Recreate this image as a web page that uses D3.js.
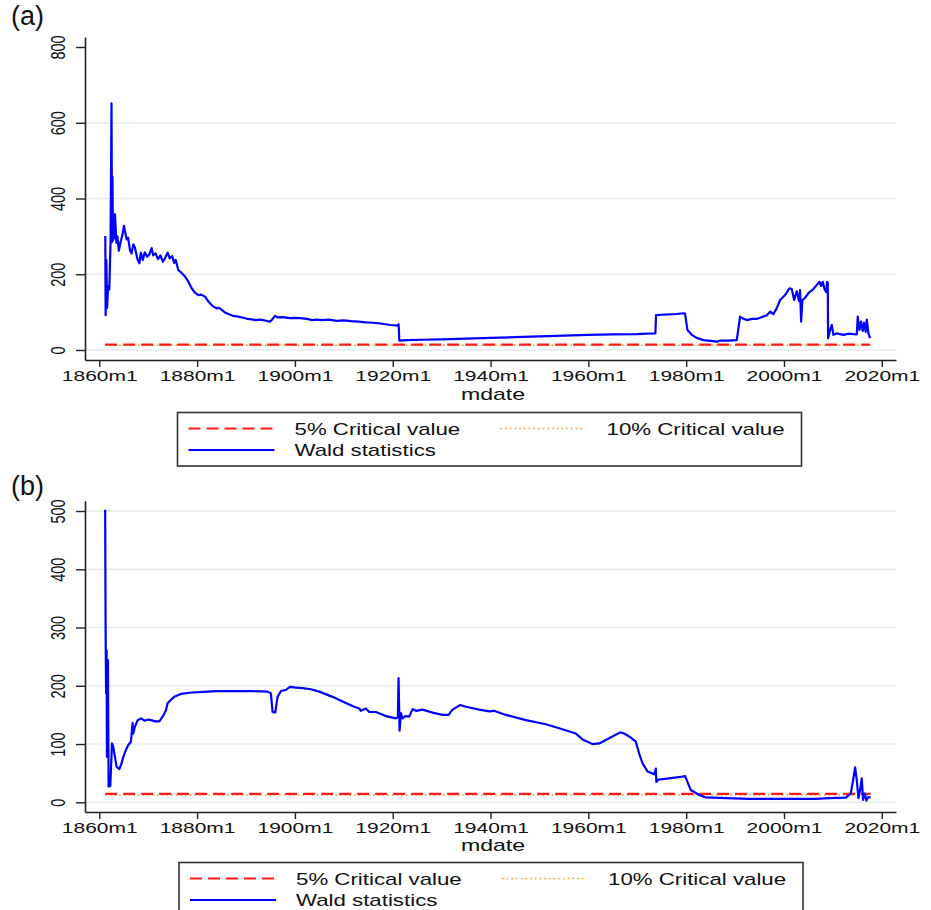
<!DOCTYPE html>
<html>
<head>
<meta charset="utf-8">
<script src="https://cdn.jsdelivr.net/npm/d3@7"></script>
<style>
body { margin: 0; background: #fff; }
svg { display: block; font-family: "Liberation Sans", Arial, sans-serif; }
</style>
</head>
<body>
<script>
// 刻度 (tick values)
var xTicks = [1860, 1880, 1900, 1920, 1940, 1960, 1980, 2000, 2020];
var yTicksA = [0, 200, 400, 600, 800];
var yGridA = [0, 200, 400, 600];
var yTicksB = [0, 100, 200, 300, 400, 500];
var legendLabels = ["5% Critical value", "10% Critical value", "Wald statistics"];

// critical values and span of the sample
var crit5 = 14.3;
var crit10 = 12.6;
var spanA = [1861.2, 2017.6];
var spanB = [1861.2, 2017.7];

// (a) Wald statistics  [year, value]
var waldA = [
  [1861.23, 301], [1861.3, 92], [1861.45, 238], [1861.55, 137], [1861.6, 111], [1861.8, 168],
  [1862.05, 160], [1862.3, 282], [1862.5, 651], [1862.6, 285], [1862.7, 458], [1862.8, 290],
  [1863.0, 295], [1863.21, 358], [1863.5, 283], [1863.7, 300], [1864.0, 262], [1864.4, 288],
  [1864.7, 302], [1865.05, 328], [1865.3, 310], [1865.6, 292], [1865.9, 296], [1866.3, 262],
  [1866.6, 255], [1866.96, 279], [1867.3, 270], [1867.8, 240], [1868.19, 229], [1868.5, 257],
  [1868.9, 238], [1869.3, 258], [1869.8, 246], [1870.2, 252], [1870.71, 269], [1871.0, 250],
  [1871.5, 255], [1872.0, 240], [1872.5, 250], [1873.0, 233], [1873.5, 244], [1873.98, 257],
  [1874.4, 242], [1874.9, 248], [1875.3, 230], [1875.62, 238], [1876.16, 211], [1876.8, 204],
  [1877.53, 194], [1878.2, 181], [1878.89, 163], [1879.5, 152], [1880.25, 145], [1880.9, 146],
  [1881.62, 141], [1882.1, 132], [1882.64, 123], [1883.3, 115], [1884.0, 110], [1884.5, 111],
  [1885.03, 106], [1885.7, 99], [1886.39, 95], [1887.4, 90], [1888.43, 88], [1889.5, 85],
  [1890.3, 82], [1891.16, 81], [1892.0, 79], [1892.86, 80], [1893.8, 78], [1894.91, 75],
  [1895.3, 80], [1895.93, 90], [1896.5, 86], [1897.5, 87], [1898.99, 84], [1900.0, 85],
  [1901.04, 84], [1902.5, 82], [1903.5, 79], [1904.45, 80], [1905.5, 79], [1907, 80],
  [1908.5, 77], [1910, 78], [1911.5, 76], [1913, 75], [1914.5, 73], [1916, 72],
  [1917.5, 70], [1918.5, 68], [1919.5, 66], [1920.5, 65], [1921.1, 64], [1921.2, 68],
  [1921.35, 25], [1923, 26], [1926, 27], [1930, 28], [1935, 30], [1940, 32],
  [1945, 34], [1950, 36], [1955, 38], [1960, 40], [1965, 41], [1970, 42],
  [1972, 43], [1973.7, 44], [1973.84, 92], [1975, 93], [1976.5, 94], [1978, 95],
  [1979.5, 97], [1979.77, 96], [1980.25, 53], [1981.14, 40], [1982.16, 32], [1983.53, 26],
  [1985, 24], [1986.25, 22], [1986.93, 25], [1988.5, 25], [1990.34, 26], [1991.02, 88],
  [1991.5, 84], [1992.39, 79], [1993.5, 82], [1994.43, 82], [1995.11, 85], [1996.48, 92],
  [1997.16, 101], [1997.83, 95], [1998.5, 110], [1999.2, 132], [2000.22, 145], [2001.11, 163],
  [2001.59, 161], [2002.07, 132], [2002.61, 155], [2003.09, 129], [2003.29, 158], [2003.5, 75],
  [2003.77, 132], [2004.32, 138], [2005.0, 150], [2006.02, 161], [2006.71, 172], [2007.25, 180],
  [2007.59, 169], [2007.93, 180], [2008.27, 161], [2008.61, 153], [2008.8, 180], [2008.95, 178],
  [2009.02, 31], [2009.43, 53], [2009.77, 66], [2010.1, 40], [2010.78, 44], [2012.15, 40],
  [2013.17, 43], [2014.88, 41], [2015.08, 88], [2015.42, 53], [2015.76, 75], [2016.1, 50],
  [2016.37, 72], [2016.71, 48], [2016.92, 80], [2017.26, 44], [2017.6, 31]
];

// (b) Wald statistics  [year, value]
var waldB = [
  [1861.2, 502], [1861.3, 284], [1861.4, 187], [1861.5, 261], [1861.57, 78], [1861.77, 244],
  [1861.91, 27], [1862.25, 28], [1862.6, 101], [1862.86, 95], [1863.2, 78], [1863.54, 61],
  [1864.09, 57], [1864.57, 67], [1864.91, 78], [1865.45, 90], [1865.9, 98], [1866.47, 104],
  [1866.81, 136], [1866.95, 118], [1867.3, 130], [1867.84, 141], [1868.52, 144], [1869.3, 140],
  [1870.0, 142], [1870.56, 141], [1871.5, 139], [1872.27, 139], [1872.95, 147], [1873.63, 158],
  [1873.97, 170], [1874.65, 176], [1875.33, 181], [1876.69, 186], [1878.4, 188], [1880.44, 189],
  [1883.85, 191], [1887.25, 191], [1890.66, 191], [1894.41, 190], [1895.09, 187], [1895.43, 155],
  [1895.98, 154], [1896.45, 181], [1897.14, 191], [1898.16, 193], [1898.98, 198], [1900.21, 197],
  [1901.56, 196], [1903.27, 194], [1904.97, 190], [1907.7, 181], [1909.74, 173], [1912.13, 164],
  [1913.15, 161], [1913.5, 157], [1914.5, 161], [1915.2, 155], [1916.56, 155], [1918.6, 148],
  [1920.65, 144], [1921.05, 146], [1921.19, 213], [1921.4, 123], [1921.67, 153], [1922.0, 144],
  [1922.6, 148], [1923.37, 147], [1924.05, 160], [1924.74, 157], [1926.1, 159], [1928.14, 154],
  [1930.18, 150], [1931.41, 150], [1932.23, 159], [1933.8, 167], [1934.96, 164], [1937.68, 159],
  [1939.72, 156], [1940.74, 157], [1943.13, 150], [1947.22, 141], [1951.31, 134], [1954.03, 127],
  [1957.44, 118], [1958.8, 108], [1960.84, 100], [1962.21, 101], [1964.25, 110], [1966.5, 120],
  [1967.32, 118], [1968.34, 113], [1969.7, 104], [1970.38, 84], [1971.06, 67], [1972.08, 53],
  [1973.45, 48], [1973.8, 58], [1973.9, 35], [1974.33, 39], [1976.5, 41], [1979.23, 44],
  [1979.78, 45], [1980.26, 35], [1980.94, 21], [1982.65, 12.5], [1984.01, 8.5], [1988.1, 7],
  [1992.86, 6], [1999.67, 6], [2006.5, 6], [2009.22, 7], [2012.63, 8], [2013.65, 15],
  [2014.13, 38], [2014.54, 60], [2014.88, 38], [2015.22, 7], [2015.56, 21], [2015.9, 41],
  [2016.17, 4], [2016.52, 15], [2016.85, 3], [2017.26, 9], [2017.74, 8]
];

var W = 931, H = 910;
var STRETCH = 1.38; // 原圖文字被水平拉寬

var svg = d3.select("body").append("svg")
  .attr("width", W)
  .attr("height", H);

function drawPanel(p) {
  var x = d3.scaleLinear().domain([1857.08, 2022.9]).range([85, 896]);
  var y = d3.scaleLinear().domain(p.yDomain).range([p.bottom, p.top]);
  var g = svg.append("g");

  // panel label
  g.append("text")
    .attr("x", 11)
    .attr("y", p.labelY)
    .attr("font-size", 27)
    .attr("fill", "#111")
    .text(p.label);

  // gridlines
  g.append("g").selectAll("line")
    .data(p.grid)
    .enter().append("line")
    .attr("x1", 86).attr("x2", 896)
    .attr("y1", function(d) { return y(d); })
    .attr("y2", function(d) { return y(d); })
    .attr("stroke", "#e2ebee")
    .attr("stroke-width", 1.6);

  // x axis
  var xAxis = g.append("g")
    .attr("transform", "translate(0," + p.bottom + ")")
    .style("color", "#222")
    .call(d3.axisBottom(x).tickValues(xTicks).tickSize(7).tickSizeOuter(0)
      .tickFormat(function(d) { return d + "m1"; }));
  xAxis.select(".domain").attr("stroke-width", 1.6);
  xAxis.selectAll(".tick line").attr("stroke-width", 1.4);
  xAxis.selectAll(".tick text")
    .attr("y", null).attr("dy", null)
    .attr("font-size", 15)
    .attr("fill", "#111")
    .attr("transform", "translate(0,21) scale(" + (STRETCH + 0.02) + ",1)");

  // y axis
  var yAxis = g.append("g")
    .attr("transform", "translate(85,0)")
    .style("color", "#222")
    .call(d3.axisLeft(y).tickValues(p.yTicks).tickSize(9).tickSizeOuter(0));
  yAxis.select(".domain").attr("stroke-width", 1.6);
  yAxis.selectAll(".tick line").attr("stroke-width", 1.4);
  yAxis.selectAll(".tick text")
    .attr("x", null).attr("dy", null)
    .attr("text-anchor", "middle")
    .attr("font-size", 14.5)
    .attr("fill", "#111")
    .attr("transform", "translate(-20,0) scale(" + STRETCH + ",1) rotate(-90)");

  // x title
  g.append("text")
    .attr("text-anchor", "middle")
    .attr("font-size", 17)
    .attr("fill", "#111")
    .attr("transform", "translate(493," + p.titleY + ") scale(1.36,1)")
    .text("mdate");

  // critical value lines: 10% dotted under 5% dashed
  g.append("line")
    .attr("x1", x(p.span[0])).attr("x2", x(p.span[1]))
    .attr("y1", y(crit10)).attr("y2", y(crit10))
    .attr("stroke", "#ff8c1a")
    .attr("stroke-width", 1.6)
    .attr("stroke-dasharray", "1.5,3.2");
  g.append("line")
    .attr("x1", x(p.span[0])).attr("x2", x(p.span[1]))
    .attr("y1", y(crit5)).attr("y2", y(crit5))
    .attr("stroke", "#ff1a1a")
    .attr("stroke-width", 2.2)
    .attr("stroke-dasharray", "12,6");

  // Wald statistics
  var line = d3.line()
    .x(function(d) { return x(d[0]); })
    .y(function(d) { return y(d[1]); });
  g.append("path")
    .datum(p.data)
    .attr("fill", "none")
    .attr("stroke", "#0000ff")
    .attr("stroke-width", 2.2)
    .attr("stroke-linejoin", "round")
    .attr("d", line);

  // legend
  var lg = g.append("g").attr("transform", "translate(" + p.legX + "," + p.legY + ")");
  lg.append("rect")
    .attr("x", 0).attr("y", 0)
    .attr("width", 624).attr("height", p.legH)
    .attr("fill", "#fff")
    .attr("stroke", "#333")
    .attr("stroke-width", 1.6);
  lg.append("line")
    .attr("x1", 11).attr("x2", 97).attr("y1", 16).attr("y2", 16)
    .attr("stroke", "#ff1a1a").attr("stroke-width", 2.2)
    .attr("stroke-dasharray", "12,6");
  lg.append("line")
    .attr("x1", 323).attr("x2", 408).attr("y1", 16).attr("y2", 16)
    .attr("stroke", "#ff8c1a").attr("stroke-width", 1.6)
    .attr("stroke-dasharray", "1.5,3.2");
  lg.append("line")
    .attr("x1", 11).attr("x2", 97).attr("y1", 37.5).attr("y2", 37.5)
    .attr("stroke", "#0000ff").attr("stroke-width", 2.2);
  var pos = [[117, 22], [429, 22], [117, 43.5]];
  lg.selectAll("text.leg")
    .data(legendLabels)
    .enter().append("text")
    .attr("class", "leg")
    .attr("font-size", 17)
    .attr("fill", "#111")
    .attr("transform", function(d, i) {
      return "translate(" + pos[i][0] + "," + pos[i][1] + ") scale(1.31,1)";
    })
    .text(function(d) { return d; });
}

drawPanel({
  label: "(a)", labelY: 25,
  top: 37, bottom: 360,
  yDomain: [-26.4, 826.4],
  yTicks: yTicksA, grid: yGridA,
  titleY: 399.5,
  span: spanA, data: waldA,
  legX: 177.5, legY: 412.5, legH: 53.5
});

drawPanel({
  label: "(b)", labelY: 495,
  top: 500.7, bottom: 812,
  yDomain: [-16.65, 517.7],
  yTicks: yTicksB, grid: yTicksB,
  titleY: 850.5,
  span: spanB, data: waldB,
  legX: 179, legY: 862.5, legH: 60
});
</script>
</body>
</html>
